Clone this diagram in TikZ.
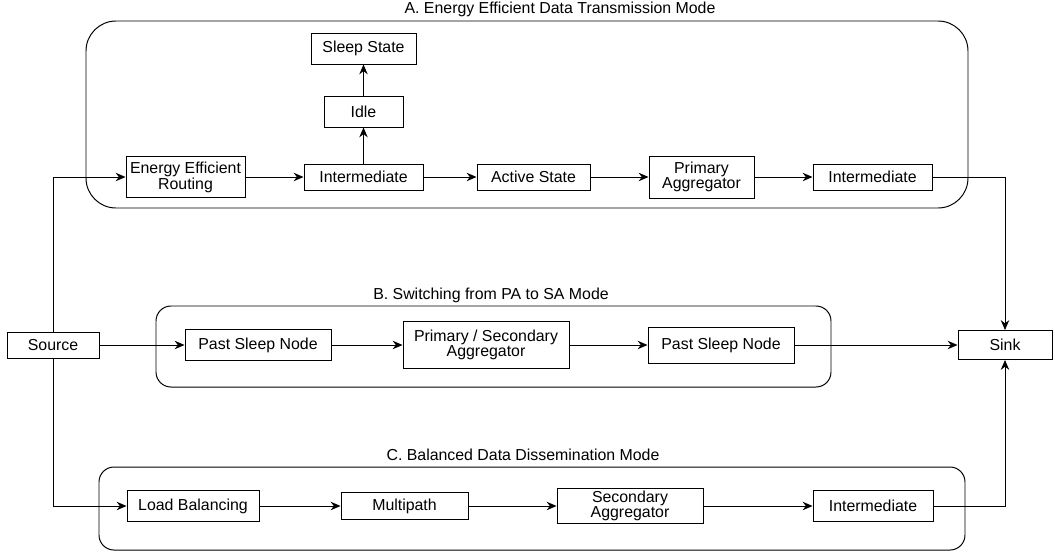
\documentclass[tikz,border=0pt]{standalone}
\usepackage{fontspec}
\setmainfont{Liberation Sans}
\usetikzlibrary{arrows.meta}

\begin{document}
\begin{tikzpicture}[x=0.025cm, y=-0.025cm, line width=0.7pt,
    box/.style = {draw, rectangle, fill=white, inner sep=0pt, align=center, font=\fontsize{11.3}{10.5}\selectfont},
    sz/.style 2 args = {minimum width={#1*0.025cm}, minimum height={#2*0.025cm}},
    grp/.style = {draw, rectangle, inner sep=0pt},
    ttl/.style = {inner sep=0pt, font=\fontsize{11.3}{12}\selectfont},
    conn/.style = {-{Stealth[length=7pt,width=6pt]}}]
            \useasboundingbox (0,0) rectangle (1055,555);

            % mode frames
            \node[grp, sz={882}{187}, rounded corners=0.75cm] (grpA) at (527,114.5) {};
            \node[grp, sz={675}{81}, rounded corners=0.375cm] (grpB) at (493.5,346.5) {};
            \node[grp, sz={866}{83}, rounded corners=0.375cm] (grpC) at (532,508.5) {};
            \node[ttl] (ttlA) at (560,9) {A. Energy Efficient Data Transmission Mode};
            \node[ttl] (ttlB) at (491,295) {B. Switching from PA to SA Mode};
            \node[ttl] (ttlC) at (523,455) {C. Balanced Data Dissemination Mode};

            % A
            \node[box, sz={105}{31}] (sleep) at (363.5,48.5) {Sleep State};
            \node[box, sz={79}{31}] (idle) at (363.5,111.5) {Idle};
            \node[box, sz={119}{41}] (eer) at (185.5,177) {Energy Efficient\\Routing};
            \node[box, sz={119}{26}] (intA1) at (363.5,177) {Intermediate};
            \node[box, sz={113}{26}] (active) at (533.5,177) {Active State};
            \node[box, sz={105}{42}] (pagg) at (701.5,177) {Primary\\Aggregator};
            \node[box, sz={119}{26}] (intA2) at (872.5,177) {Intermediate};

            % B
            \node[box, sz={92}{26}] (src) at (53,345) {Source};
            \node[box, sz={146}{31}] (psn1) at (258,345) {Past Sleep Node};
            \node[box, sz={166}{47}] (psagg) at (486,345) {Primary / Secondary\\Aggregator};
            \node[box, sz={146}{36}] (psn2) at (721,345) {Past Sleep Node};
            \node[box, sz={94}{29}] (sink) at (1005,345) {Sink};

            % C
            \node[box, sz={132}{31}] (lb) at (193,506) {Load Balancing};
            \node[box, sz={127}{27}] (mp) at (404.5,506) {Multipath};
            \node[box, sz={146}{35}] (sagg) at (630,506) {Secondary\\Aggregator};
            \node[box, sz={120}{31}] (intC) at (873,506) {Intermediate};

            \draw[conn] (src.north) |- (eer.west);
            \draw[conn] (eer) -- (intA1);
            \draw[conn] (intA1) -- (idle);
            \draw[conn] (idle) -- (sleep);
            \draw[conn] (intA1) -- (active);
            \draw[conn] (active) -- (pagg);
            \draw[conn] (pagg) -- (intA2);
            \draw[conn] (intA2.east) -| (sink.north);

            \draw[conn] (src) -- (psn1);
            \draw[conn] (psn1) -- (psagg);
            \draw[conn] (psagg) -- (psn2);
            \draw[conn] (psn2) -- (sink);

            \draw[conn] (src.south) |- (lb.west);
            \draw[conn] (lb) -- (mp);
            \draw[conn] (mp) -- (sagg);
            \draw[conn] (sagg) -- (intC);
            \draw[conn] (intC.east) -| (sink.south);
        \end{tikzpicture}
\end{document}
